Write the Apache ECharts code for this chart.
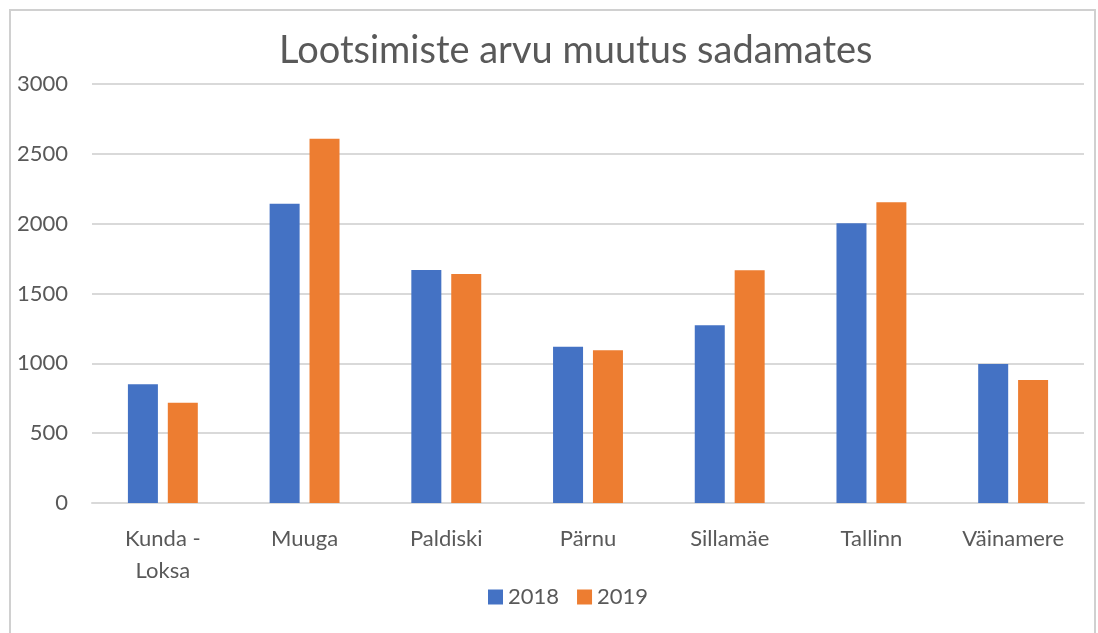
<!DOCTYPE html>
<html>
<head>
<meta charset="utf-8">
<script src="https://cdn.jsdelivr.net/npm/echarts@6/dist/echarts.min.js"></script>
<style>html,body{margin:0;padding:0;background:#fff;}#c{width:1098px;height:633px;}</style>
</head>
<body>
<div id="c"></div>
<script>
const categories = ['Kunda -\nLoksa', 'Muuga', 'Paldiski', 'Pärnu', 'Sillamäe', 'Tallinn', 'Väinamere'];
const series2018 = [850, 2143, 1668, 1119, 1272, 2003, 995];
const series2019 = [718, 2608, 1640, 1093, 1666, 2153, 881];
const seriesNames = ['2018', '2019'];
const titleText = 'Lootsimiste arvu muutus sadamates';

const chart = echarts.init(document.getElementById('c'));
const txt = '#595959';
const font = 'Lato, "Open Sans", sans-serif';
chart.setOption({
  animation: false,
  backgroundColor: '#fff',
  color: ['#4472C4', '#ED7D31'],
  title: {
    text: titleText, left: 274, top: 27,
    textStyle: { fontFamily: font, fontSize: 38, fontWeight: 'normal', color: txt }
  },
  legend: {
    data: seriesNames, bottom: 20, left: 483,
    itemWidth: 15, itemHeight: 15, itemGap: 18, icon: 'rect',
    textStyle: { fontFamily: font, fontSize: 22, color: txt }
  },
  grid: { left: 92, right: 14, top: 84, bottom: 130 },
  xAxis: {
    type: 'category', data: categories,
    axisLine: { lineStyle: { color: '#d9d9d9', width: 2 } },
    axisTick: { show: false },
    axisLabel: { fontFamily: font, fontSize: 22, color: txt, margin: 20, lineHeight: 32 }
  },
  yAxis: {
    type: 'value', min: 0, max: 3000, interval: 500,
    axisLine: { show: false }, axisTick: { show: false },
    splitLine: { lineStyle: { color: '#d9d9d9', width: 2 } },
    axisLabel: { fontFamily: font, fontSize: 22, color: txt, margin: 24, formatter: v => String(v) }
  },
  series: [
    { name: seriesNames[0], type: 'bar', data: series2018, barWidth: 30, barGap: '33%' },
    { name: seriesNames[1], type: 'bar', data: series2019, barWidth: 30, barGap: '33%' }
  ],
  graphic: [
    { type: 'polyline', shape: { points: [[10, 640], [10, 10], [1095, 10], [1095, 640]] },
      style: { stroke: '#d0d0d0', lineWidth: 2, fill: null }, silent: true }
  ]
});
</script>
</body>
</html>
